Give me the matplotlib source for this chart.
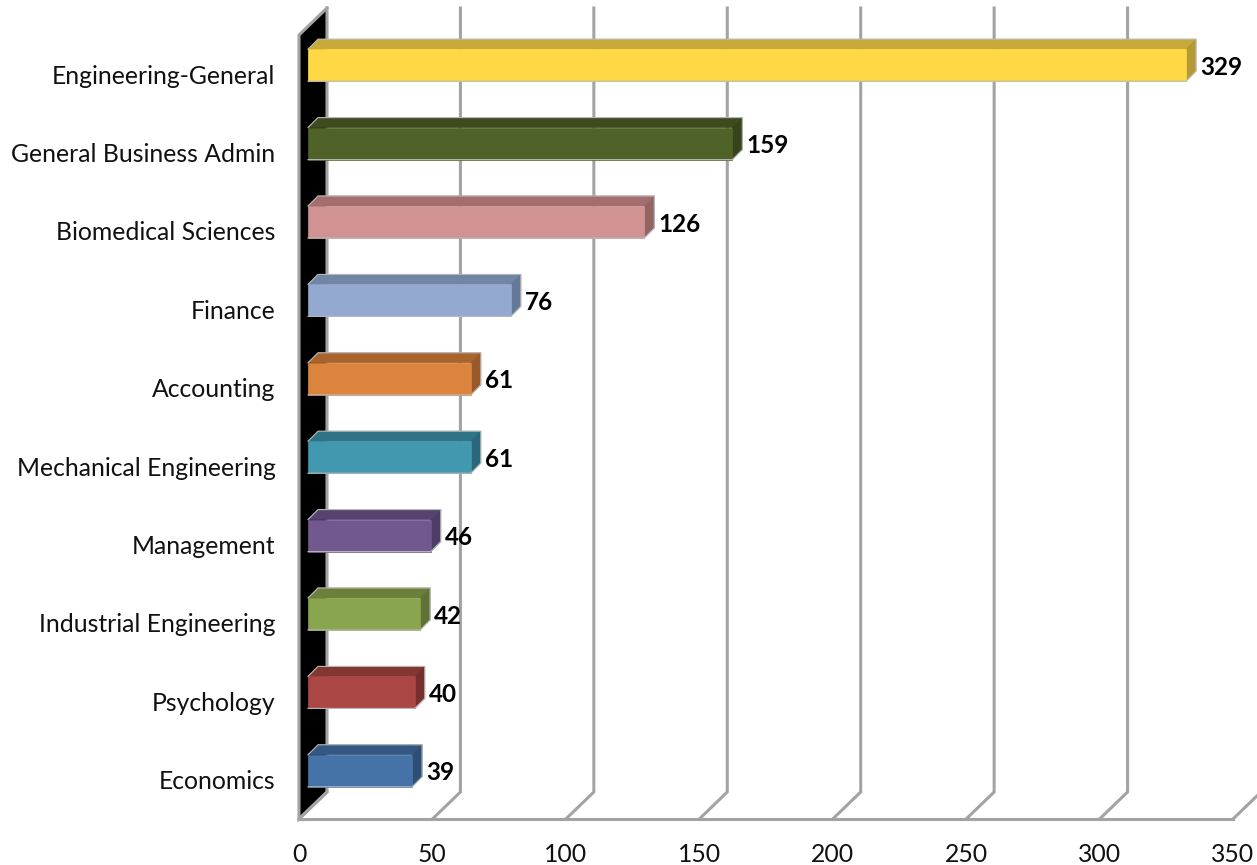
#!/usr/bin/env python3
from matplotlib import pyplot as plt

categories = ['Economics', 'Psychology', 'Industrial Engineering', 'Management',
              'Mechanical Engineering', 'Accounting', 'Finance', 'Biomedical Sciences',
              'General Business Admin', 'Engineering-General']
values = [39, 40, 42, 46, 61, 61, 76, 126, 159, 329]
front_colors = ['#4573A7', '#AA4643', '#89A54E', '#71588F', '#4198AF',
                '#DB843D', '#93A9CF', '#D09392', '#4F6228', '#FFD845']
top_colors = ['#345882', '#843633', '#6A803B', '#56436F', '#2F7387',
              '#A8642D', '#7185A6', '#A26F6E', '#3D4B1E', '#C8AA3A']
side_colors = ['#2F4E75', '#772F2D', '#5F7335', '#4D3C64', '#2A677A',
               '#975A28', '#657896', '#926463', '#37441B', '#B49934']
x_ticks = [0, 50, 100, 150, 200, 250, 300, 350]

W, H = 1257, 865
fig = plt.figure(figsize=(W / 100, H / 100), dpi=100)
plt.rcParams['font.family'] = ['Lato', 'DejaVu Sans']

# front plane of the box, in pixels: x 299-1233, y 35-819
ax = fig.add_axes([299 / W, 1 - 819 / H, 934 / W, 784 / H])
ax.set_xlim(0, 350)
ax.set_ylim(-0.5, 9.5)

# one pixel in data units
px = 350 / 934
py = 10 / 784

wall_dx, wall_dy = 28 * px, 27 * py
gap_dx, gap_dy = 9 * px, 9 * py
bar_dx, bar_dy = 10 * px, 10 * py
half = 16 * py

grid = '#A3A3A3'
lw = 2.2

# black side wall
ax.fill([0, wall_dx, wall_dx, 0], [-0.5, -0.5 + wall_dy, 9.5 + wall_dy, 9.5],
        color='black', lw=0, zorder=1, clip_on=False)
ax.plot([wall_dx, 0, 0, wall_dx], [9.5 + wall_dy, 9.5, -0.5, -0.5 + wall_dy],
        color=grid, lw=lw, zorder=2, clip_on=False, solid_joinstyle='miter')
ax.plot([0, 350], [-0.5, -0.5], color=grid, lw=lw, zorder=2, clip_on=False)

# gridlines: back wall and the diagonal on the floor
for t in x_ticks:
    ax.plot([t, t + wall_dx, t + wall_dx], [-0.5, -0.5 + wall_dy, 9.5 + wall_dy],
            color=grid, lw=lw, zorder=2, clip_on=False, solid_joinstyle='miter')

# 3d bars
edge = '#B8B8B8'
for i, v in enumerate(values):
    x0 = gap_dx
    x1 = gap_dx + v
    y0 = i + gap_dy - half
    y1 = i + gap_dy + half
    ax.fill([x0, x1, x1 + bar_dx, x0 + bar_dx], [y1, y1, y1 + bar_dy, y1 + bar_dy],
            facecolor=top_colors[i], edgecolor=top_colors[i], lw=0.5, zorder=3, clip_on=False)
    ax.fill([x1, x1 + bar_dx, x1 + bar_dx, x1], [y0, y0 + bar_dy, y1 + bar_dy, y1],
            facecolor=side_colors[i], edgecolor=side_colors[i], lw=0.5, zorder=3, clip_on=False)
    ax.fill([x0, x1, x1, x0], [y0, y0, y1, y1],
            facecolor=front_colors[i], edgecolor=front_colors[i], lw=0.5, zorder=4, clip_on=False)
    ax.plot([x0, x0 + bar_dx, x1 + bar_dx, x1 + bar_dx, x1, x0],
            [y1, y1 + bar_dy, y1 + bar_dy, y0 + bar_dy, y0, y0],
            color=edge, lw=0.8, zorder=4, clip_on=False)
    ax.text(x1 + bar_dx + 4 * px, i + gap_dy, str(v), fontsize=17.5, fontweight='bold',
            color='black', ha='left', va='center_baseline', zorder=5)

ax.set_yticks(range(len(categories)))
ax.set_yticklabels(categories, fontsize=17.8, color='#111111')
ax.set_xticks(x_ticks)
ax.set_xticklabels([str(t) for t in x_ticks], fontsize=17.8, color='#111111')
ax.tick_params(axis='y', length=0, pad=17)
ax.tick_params(axis='x', length=0, pad=17)
for s in ax.spines.values():
    s.set_visible(False)

fig.savefig('out.png', dpi=100)
